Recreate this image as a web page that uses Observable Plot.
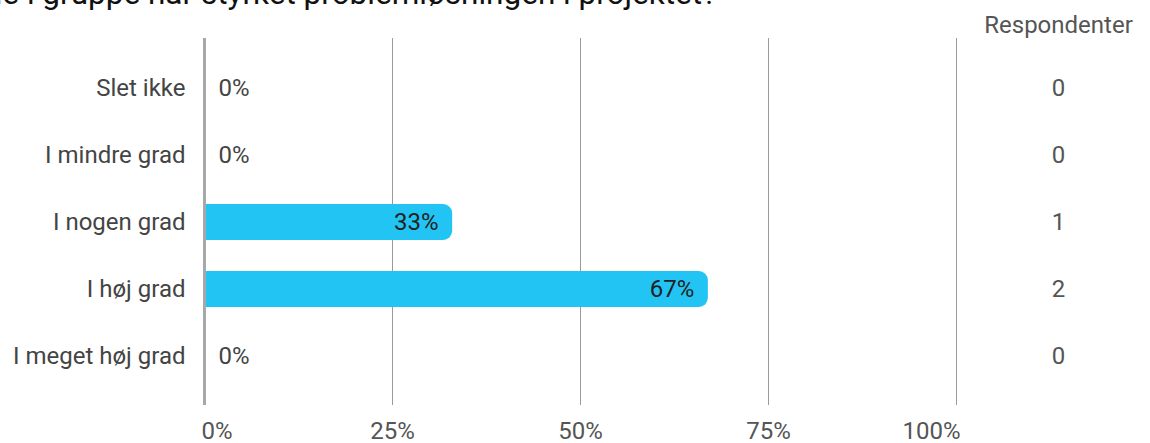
<!DOCTYPE html>
<html>
<head>
<meta charset="utf-8">
<script src="https://cdn.jsdelivr.net/npm/d3@7"></script>
<script src="https://cdn.jsdelivr.net/npm/@observablehq/plot@0.6"></script>
<style>
  html, body { margin: 0; padding: 0; background: #fff; overflow: hidden; }
  #wrap { position: relative; width: 1150px; height: 443px; font-family: Roboto, sans-serif; overflow: hidden; }
  #title { position: absolute; right: 433px; top: -22px; font-size: 31.5px; line-height: 32px; white-space: nowrap; color: #111; }
  #chart { position: absolute; left: 0; top: 0; }
</style>
</head>
<body>
<div id="wrap">
  <div id="chart"></div>
  <div id="title">Samarbejde i gruppe har styrket problemløsningen i projektet?</div>
</div>
<script>
const categories = ["Slet ikke", "I mindre grad", "I nogen grad", "I høj grad", "I meget høj grad"];
const shares = [0, 0, 0.33, 0.67, 0];
const respondents = [0, 0, 1, 2, 0];
const xTicks = [0, 0.25, 0.5, 0.75, 1];
const tickLabels = ["0%", "25%", "50%", "75%", "100%"];
const columnHeader = "Respondenter";

const data = categories.map((c, i) => ({category: c, value: shares[i], n: respondents[i]}));
const ticks = xTicks.map((t, i) => ({t, label: tickLabels[i]}));
const pct = v => Math.round(v * 100) + "%";
const barColor = "#22c4f4";
const fs = 24;

const chart = Plot.plot({
  width: 1150,
  height: 443,
  marginLeft: 204,
  marginRight: 194,
  marginTop: 38,
  marginBottom: 38,
  style: {fontFamily: "Roboto, sans-serif", fontSize: fs + "px", background: "transparent", overflow: "visible"},
  x: {domain: [0, 1], axis: null, label: null},
  y: {domain: categories, paddingInner: 0.467, paddingOuter: 0.45, axis: null, label: null},
  marks: [
    Plot.ruleX(xTicks.slice(1), {stroke: "#9a9a9a", strokeWidth: 1}),
    Plot.barX(data.filter(d => d.value > 0), {y: "category", x: "value", fill: barColor, rx: 9}),
    Plot.barX(data.filter(d => d.value > 0), {y: "category", x1: 0, x2: d => d.value / 2, fill: barColor}),
    Plot.ruleX([0], {stroke: "#a8a8a8", strokeWidth: 3}),
    Plot.text(ticks.slice(0, 1), {x: "t", text: "label", frameAnchor: "bottom", dy: 33, dx: -3, textAnchor: "start", fill: "#555", fontSize: fs}),
    Plot.text(ticks.slice(1, -1), {x: "t", text: "label", frameAnchor: "bottom", dy: 33, textAnchor: "middle", fill: "#555", fontSize: fs}),
    Plot.text(ticks.slice(-1), {x: "t", text: "label", frameAnchor: "bottom", dy: 33, dx: 4, textAnchor: "end", fill: "#555", fontSize: fs}),
    Plot.axisY({tickSize: 0, tickPadding: 19, fontSize: fs, color: "#444", anchor: "left", label: null}),
    Plot.text(data.filter(d => d.value > 0), {y: "category", x: "value", text: d => pct(d.value), textAnchor: "end", dx: -14, fill: "#222", fontSize: fs}),
    Plot.text(data.filter(d => d.value === 0), {y: "category", x: "value", text: d => pct(d.value), textAnchor: "start", dx: 14, fill: "#444", fontSize: fs}),
    Plot.text(data, {y: "category", frameAnchor: "right", dx: 102, textAnchor: "middle", text: d => String(d.n), fill: "#555", fontSize: fs}),
    Plot.text([columnHeader], {frameAnchor: "top-right", dx: 102, dy: -23, textAnchor: "middle", text: d => d, fill: "#555", fontSize: fs})
  ]
});
document.getElementById("chart").appendChild(chart);
</script>
</body>
</html>
